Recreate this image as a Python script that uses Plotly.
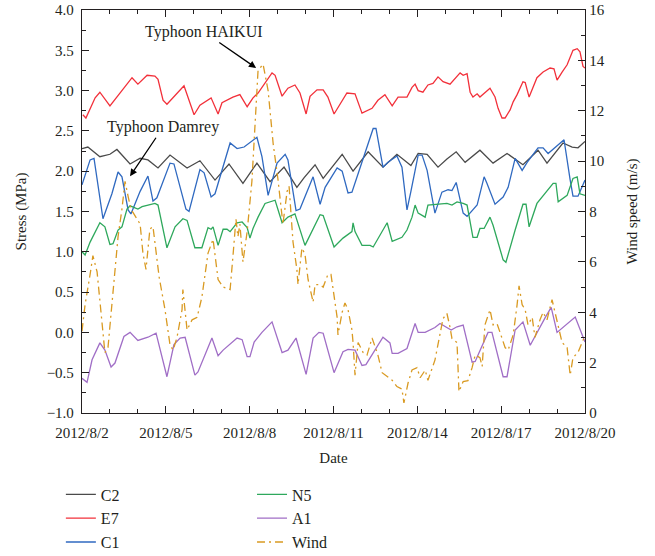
import pandas as pd
import plotly.graph_objects as go

BASE = pd.Timestamp("2012-08-02")

# ---- data: time in days after 2012/8/2 00:00, stress in MPa, wind in m/s ----
c2_days = [0.00,0.21,0.64,1.00,1.25,1.72,2.08,2.36,2.72,3.15,3.76,4.22,4.76,5.26,5.76,6.26,6.73,7.23,7.69,7.95,8.34,8.63,9.31,9.70,10.24,10.77,11.27,11.77,12.03,12.35,12.74,13.06,13.39,13.71,14.24,14.71,15.21,15.78,16.32,16.64,17.21,17.54,17.75,18.00]
c2_vals = [2.28,2.30,2.18,2.21,2.27,2.09,2.16,2.14,2.04,2.20,2.04,2.13,1.89,2.09,1.85,2.10,1.87,2.05,1.80,1.92,2.08,1.91,2.21,2.00,2.24,2.05,2.21,2.07,2.22,2.21,2.05,2.15,2.24,2.11,2.26,2.10,2.22,2.08,2.26,2.10,2.35,2.30,2.29,2.37]

e7_days = [0.03,0.14,0.47,0.64,1.00,1.79,2.00,2.33,2.61,2.72,2.90,3.04,3.65,4.01,4.22,4.62,4.87,5.01,5.40,5.65,5.91,6.12,6.30,6.80,6.91,7.16,7.37,7.62,7.80,8.02,8.16,8.41,8.63,8.80,9.02,9.31,9.48,9.77,10.02,10.38,10.59,10.84,11.10,11.31,11.63,11.81,11.92,12.03,12.20,12.38,12.56,12.74,12.92,13.17,13.53,13.64,13.78,13.89,13.99,14.14,14.24,14.60,14.78,14.89,15.03,15.14,15.32,15.43,15.57,15.78,15.86,16.00,16.28,16.50,16.75,16.89,17.00,17.18,17.36,17.57,17.72,17.82,17.93,18.00]
e7_vals = [2.70,2.66,2.91,2.98,2.81,3.16,3.08,3.19,3.18,3.14,2.88,2.83,3.06,2.70,2.82,2.91,2.71,2.85,2.92,2.95,2.80,2.91,2.97,3.22,3.19,2.93,3.03,3.07,2.97,2.71,2.93,3.01,3.01,2.92,2.71,2.87,2.97,2.96,2.72,2.78,2.88,2.95,2.81,2.92,2.92,3.04,3.08,3.00,2.98,3.07,3.09,3.17,3.11,3.08,3.22,3.19,3.21,2.98,2.92,2.96,2.92,3.03,2.92,2.78,2.66,2.66,2.76,2.86,2.95,3.11,3.10,2.92,3.16,3.23,3.28,3.27,3.13,3.23,3.32,3.50,3.52,3.48,3.30,3.28]

c1_days = [0.00,0.29,0.43,0.61,0.75,1.07,1.29,1.43,1.65,1.75,2.08,2.36,2.54,2.68,3.15,3.29,3.72,3.83,4.22,4.37,4.62,4.76,5.30,5.55,5.80,6.26,6.44,6.66,6.98,7.27,7.37,7.66,7.80,8.27,8.52,8.70,9.13,9.31,9.52,9.66,10.13,10.42,10.52,10.77,10.95,11.27,11.45,11.63,11.77,12.03,12.17,12.35,12.63,12.88,13.10,13.24,13.39,13.53,13.64,13.78,14.14,14.39,14.49,14.78,15.07,15.25,15.50,15.75,15.93,16.32,16.50,16.68,17.04,17.25,17.47,17.57,17.75,17.93,18.00]
c1_vals = [1.83,2.14,2.16,1.75,1.41,1.72,1.99,1.93,1.52,1.47,1.75,1.94,1.63,1.67,2.10,2.09,1.53,1.50,2.02,1.98,1.68,1.72,2.35,2.28,2.30,2.42,2.18,1.70,2.10,2.21,2.14,1.51,1.53,1.93,1.59,1.80,2.04,2.00,1.73,1.74,2.22,2.53,2.53,2.05,2.11,2.19,2.05,1.52,1.75,2.20,2.20,2.01,1.48,1.74,1.77,1.76,1.86,1.65,1.48,1.44,1.58,1.93,1.85,1.59,1.68,1.80,2.16,2.01,2.11,2.29,2.29,2.22,2.32,2.39,1.89,1.69,1.69,1.85,1.89]

n5_days = [0.00,0.11,0.29,0.64,0.82,1.00,1.11,1.29,1.43,1.61,1.72,2.00,2.15,2.61,2.72,3.04,3.33,3.61,3.76,4.04,4.29,4.51,4.62,4.69,4.87,5.05,5.19,5.30,5.55,5.73,5.91,6.01,6.12,6.30,6.55,6.73,6.91,7.16,7.37,7.62,7.98,8.52,8.63,9.02,9.34,9.66,9.70,9.77,10.02,10.31,10.42,10.92,11.10,11.45,11.63,11.81,11.92,12.03,12.28,12.38,12.81,13.06,13.24,13.42,13.64,13.78,13.99,14.14,14.24,14.39,14.60,14.71,15.07,15.17,15.50,15.78,15.89,16.00,16.28,16.50,16.86,16.96,17.04,17.36,17.57,17.72,17.82,18.00]
n5_vals = [1.00,0.96,1.12,1.36,1.31,1.09,1.10,1.27,1.31,1.53,1.57,1.53,1.56,1.60,1.58,1.05,1.31,1.41,1.39,1.05,1.05,1.30,1.28,1.31,1.08,1.28,1.28,1.25,1.36,1.37,1.30,1.17,1.29,1.43,1.60,1.62,1.64,1.36,1.43,1.47,1.08,1.46,1.45,1.06,1.17,1.25,1.36,1.25,1.08,1.08,1.06,1.36,1.13,1.18,1.27,1.43,1.58,1.48,1.43,1.58,1.59,1.60,1.58,1.62,1.60,1.58,1.18,1.18,1.29,1.29,1.43,1.33,0.90,0.87,1.27,1.59,1.59,1.31,1.60,1.70,1.85,1.85,1.62,1.70,1.91,1.93,1.72,1.70]

a1_days = [0.00,0.18,0.36,0.64,0.82,1.04,1.18,1.50,1.72,2.00,2.36,2.65,3.04,3.29,3.51,3.69,4.04,4.15,4.65,4.87,5.05,5.55,5.73,5.91,6.01,6.16,6.44,6.80,7.16,7.37,7.66,8.02,8.27,8.48,8.63,9.02,9.34,9.52,9.77,10.02,10.16,10.77,11.02,11.10,11.31,11.63,11.92,12.03,12.28,12.63,12.81,12.99,13.21,13.42,13.64,13.96,14.07,14.53,14.67,15.07,15.21,15.50,15.78,16.04,16.39,16.57,16.79,17.00,17.65,17.93,18.00]
a1_vals = [-0.57,-0.62,-0.34,-0.13,-0.22,-0.43,-0.38,-0.05,0.00,-0.10,-0.06,-0.01,-0.55,-0.15,-0.07,-0.06,-0.53,-0.49,-0.07,-0.29,-0.22,-0.07,-0.09,-0.30,-0.30,-0.12,0.00,0.13,-0.25,-0.22,-0.07,-0.52,-0.07,0.00,-0.01,-0.50,-0.24,-0.21,-0.22,-0.41,-0.40,-0.06,-0.13,-0.26,-0.26,-0.20,0.11,0.00,0.00,0.06,0.11,0.07,0.03,0.07,0.09,-0.37,-0.36,0.00,0.00,-0.55,-0.55,0.03,0.13,-0.16,0.07,0.18,0.31,0.00,0.19,-0.07,-0.12]

wind_days = [0.00,0.11,0.29,0.39,0.54,0.72,0.82,0.93,1.11,1.29,1.43,1.54,1.65,1.75,1.97,2.08,2.18,2.29,2.43,2.54,2.76,2.97,3.15,3.26,3.40,3.58,3.61,3.76,3.94,4.12,4.29,4.51,4.69,4.87,5.05,5.30,5.40,5.51,5.58,5.65,5.76,5.91,6.08,6.30,6.48,6.66,6.84,7.01,7.19,7.34,7.41,7.55,7.69,7.73,7.87,7.98,8.09,8.27,8.34,8.52,8.63,8.80,8.91,8.98,9.13,9.16,9.31,9.41,9.52,9.66,9.70,9.77,9.88,10.06,10.20,10.38,10.49,10.59,10.74,10.92,11.10,11.27,11.45,11.52,11.67,11.81,11.99,12.10,12.28,12.38,12.53,12.63,12.92,13.06,13.17,13.24,13.42,13.49,13.64,13.81,13.96,14.07,14.24,14.32,14.42,14.60,14.71,14.85,14.96,15.14,15.25,15.43,15.57,15.64,15.75,15.86,15.96,16.11,16.21,16.39,16.50,16.64,16.82,16.93,17.04,17.18,17.36,17.47,17.57,17.75,17.93,18.00]
wind_vals = [3.25,4.3,5.5,6.25,5.6,3.4,2.4,2.6,4.8,7.0,8.1,9.2,8.6,8.1,7.7,7.5,6.35,5.7,7.3,7.4,5.4,4.1,2.7,2.5,3.0,4.1,4.9,3.3,3.7,3.8,4.6,6.35,6.9,5.3,5.0,4.9,6.2,7.7,7.0,7.5,6.0,7.2,9.2,13.6,13.85,12.8,10.7,9.3,7.5,8.8,9.0,6.8,5.7,5.1,6.55,6.3,5.3,4.4,5.1,5.1,5.0,5.5,5.5,4.96,3.8,3.1,4.0,4.37,4.1,3.3,2.8,1.5,2.8,2.4,2.3,2.98,2.6,2.3,1.6,1.45,1.3,1.05,0.95,0.4,1.2,1.71,1.8,1.4,1.7,1.3,1.8,2.1,3.75,3.95,3.4,2.95,2.8,0.85,1.25,1.28,1.8,2.3,2.2,1.85,3.5,4.1,3.5,3.55,3.2,2.6,2.5,3.1,4.3,5.05,4.3,4.1,3.5,3.8,3.0,3.7,4.0,3.7,4.5,4.0,3.5,2.8,2.6,1.5,2.2,2.4,2.9,3.0]

# annotation targets (day, wind speed)
haikui_day, haikui_wind = 6.23, 13.7
damrey_day, damrey_wind = 1.72, 9.4


def to_time(days):
    return [BASE + pd.Timedelta(days=d) for d in days]


FONT = "Liberation Serif"
AXC = "#231f20"

fig = go.Figure()
series = [
    ("C2", c2_days, c2_vals, "#4a4a4a", "legend"),
    ("E7", e7_days, e7_vals, "#f2303a", "legend"),
    ("C1", c1_days, c1_vals, "#2f69c0", "legend"),
    ("N5", n5_days, n5_vals, "#2ea85c", "legend2"),
    ("A1", a1_days, a1_vals, "#a06ec6", "legend2"),
]
for name, d, v, col, lg in series:
    fig.add_trace(go.Scatter(x=to_time(d), y=v, mode="lines", name=name, legend=lg,
                             line=dict(color=col, width=1.3)))
fig.add_trace(go.Scatter(x=to_time(wind_days), y=wind_vals, mode="lines", name="Wind",
                         yaxis="y2", legend="legend2",
                         line=dict(color="#d99a22", width=1.3, dash="8px,4px,2px,4px")))

tick_font = dict(family=FONT, size=15, color=AXC)
title_font = dict(family=FONT, size=15, color=AXC)
leg_common = dict(orientation="v", y=-0.16, xanchor="left", yanchor="top",
                  font=dict(family=FONT, size=16, color=AXC),
                  tracegroupgap=0, itemwidth=30, bgcolor="rgba(0,0,0,0)")
fig.update_layout(
    width=655, height=556,
    margin=dict(l=82, r=70, t=10, b=143, autoexpand=False),
    paper_bgcolor="white", plot_bgcolor="white",
    font=dict(family=FONT, size=15, color=AXC),
    showlegend=True,
    legend=dict(x=-0.042, **leg_common),
    legend2=dict(x=0.338, **leg_common),
    xaxis=dict(type="date",
               range=[BASE, BASE + pd.Timedelta(days=18)],
               tick0=BASE, dtick=3 * 86400000, tickformat="%Y/%-m/%-d",
               ticks="inside", ticklen=7, tickwidth=1.2, tickcolor=AXC,
               minor=dict(ticks="inside", ticklen=4, tickwidth=1.2, tickcolor=AXC, dtick=86400000, showgrid=False),
               showline=True, linewidth=1.3, linecolor=AXC, mirror="ticks",
               showgrid=False, zeroline=False, tickfont=tick_font, ticklabelstandoff=6,
               title=dict(text="Date", font=title_font, standoff=12)),
    yaxis=dict(range=[-1, 4], dtick=0.5, tick0=0, tickformat=".1f",
               ticks="inside", ticklen=7, tickwidth=1.2, tickcolor=AXC,
               minor=dict(ticks="inside", ticklen=4, tickwidth=1.2, tickcolor=AXC, dtick=0.25, showgrid=False),
               showline=True, linewidth=1.3, linecolor=AXC,
               showgrid=False, zeroline=False, tickfont=tick_font, ticklabelstandoff=4,
               title=dict(text="Stress (MPa)", font=title_font, standoff=16)),
    yaxis2=dict(range=[0, 16], dtick=2, tick0=0, overlaying="y", side="right",
                ticks="inside", ticklen=7, tickwidth=1.2, tickcolor=AXC,
                minor=dict(ticks="inside", ticklen=4, tickwidth=1.2, tickcolor=AXC, dtick=1, showgrid=False),
                showline=True, linewidth=1.3, linecolor=AXC,
                showgrid=False, zeroline=False, tickfont=tick_font,
                title=dict(text="Wind speed (m/s)", font=title_font, standoff=22)),
    annotations=[
        dict(x=BASE + pd.Timedelta(days=haikui_day), y=haikui_wind, xref="x", yref="y2",
             text="Typhoon HAIKUI", showarrow=True, arrowhead=2, arrowsize=1.1, arrowwidth=1.3,
             arrowcolor="black", ax=-52, ay=-36, font=dict(family=FONT, size=16, color=AXC)),
        dict(x=BASE + pd.Timedelta(days=damrey_day), y=damrey_wind, xref="x", yref="y2",
             text="Typhoon Damrey", showarrow=True, arrowhead=2, arrowsize=1.1, arrowwidth=1.3,
             arrowcolor="black", ax=33, ay=-49, font=dict(family=FONT, size=16, color=AXC)),
    ],
)

fig.write_html("out.html")
